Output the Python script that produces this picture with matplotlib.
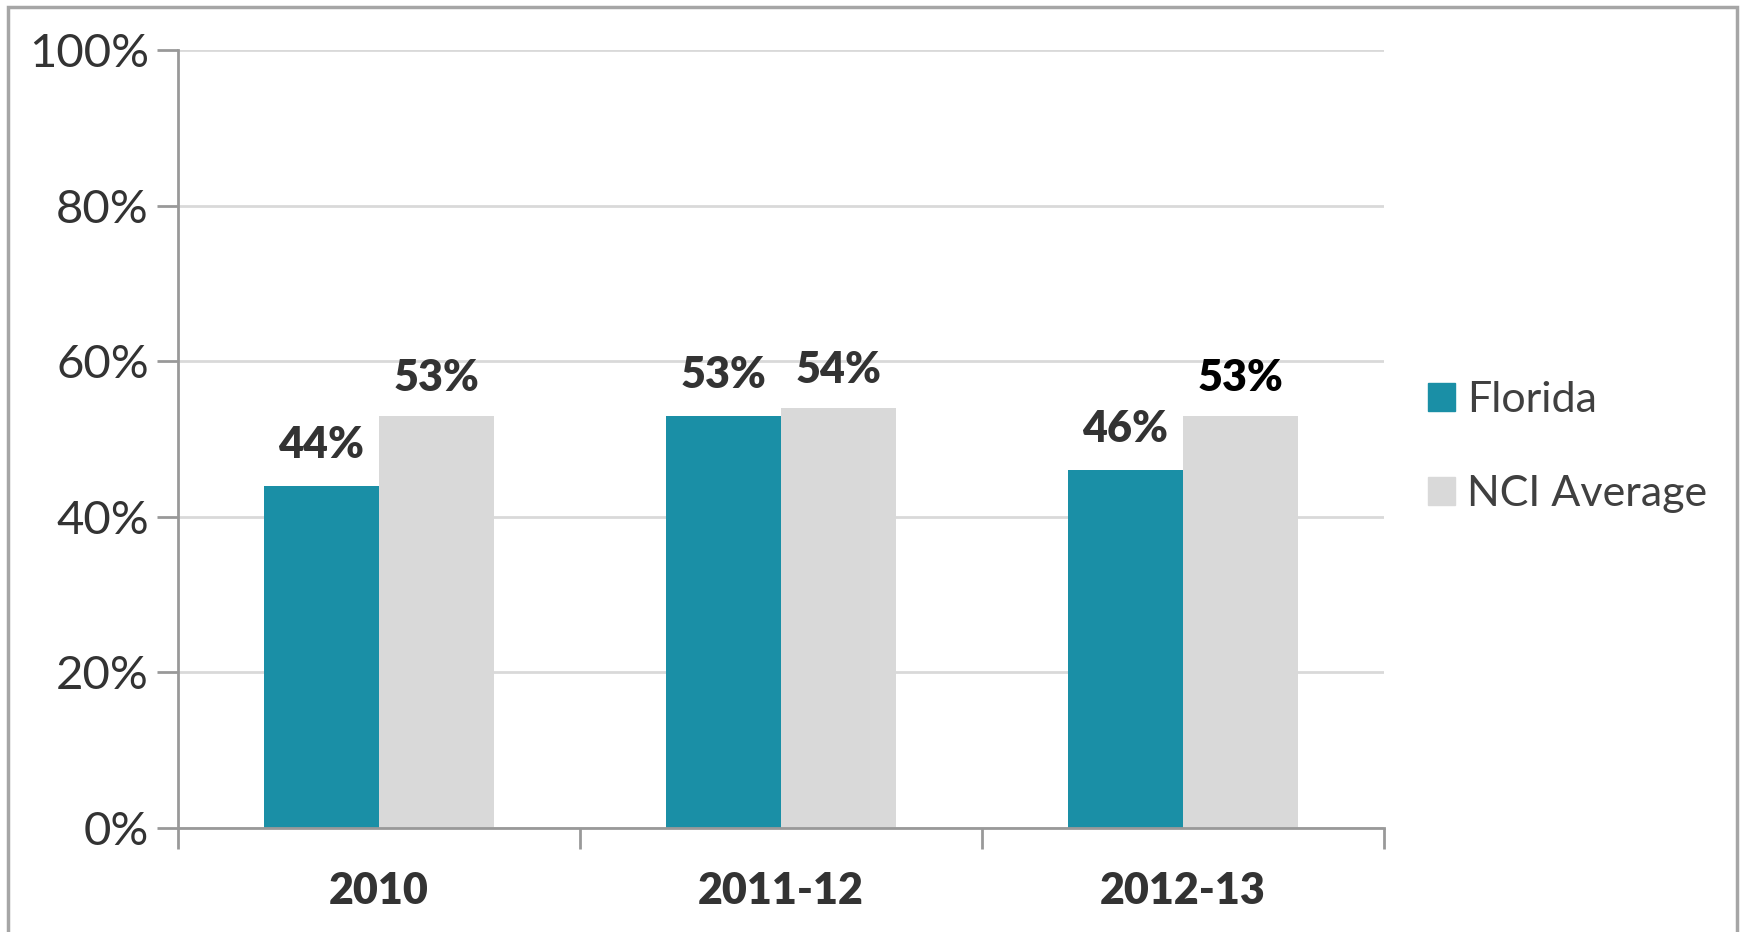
import numpy as np
import matplotlib.pyplot as plt
from matplotlib.patches import Rectangle, Patch

# chart data
categories = ['2010', '2011-12', '2012-13']
florida = [44, 53, 46]
nci_average = [53, 54, 53]
yticks = [0, 20, 40, 60, 80, 100]

teal = '#1a8fa6'
grey = '#d9d9d9'
text_col = '#333333'

plt.rcParams['font.family'] = ['Lato', 'DejaVu Sans']

fig = plt.figure(figsize=(17.41, 9.32), dpi=100)
ax = fig.add_axes([178 / 1741, 1 - 828 / 932, 1206 / 1741, 778 / 932])

x = np.arange(len(categories))
w = 0.286
b1 = ax.bar(x - w / 2, florida, w, color=teal, zorder=3)
b2 = ax.bar(x + w / 2, nci_average, w, color=grey, zorder=3)

for rect, v in zip(b1, florida):
    ax.text(rect.get_x() + rect.get_width() / 2, v + 2.7, f'{v}%', ha='center', va='bottom',
            fontsize=31, fontweight='heavy', color=text_col)
for i, (rect, v) in enumerate(zip(b2, nci_average)):
    ax.text(rect.get_x() + rect.get_width() / 2, v + 2.3, f'{v}%', ha='center', va='bottom',
            fontsize=31, fontweight='heavy', color='black' if i == 2 else text_col)

ax.set_xlim(-0.5, len(categories) - 0.5)
ax.set_ylim(0, 100)
ax.set_yticks(yticks)
ax.set_yticklabels([f'{t}%' for t in yticks])
ax.set_xticks(np.arange(len(categories) + 1) - 0.5)
ax.set_xticklabels([])
ax.set_xticks(x, minor=True)
ax.set_xticklabels(categories, minor=True)
ax.tick_params(axis='x', which='minor', length=0, pad=31, labelsize=31, labelcolor=text_col)
for lbl in ax.get_xticklabels(minor=True):
    lbl.set_fontweight('heavy')
ax.tick_params(axis='x', which='major', length=15, width=2, color='#999999')
ax.tick_params(axis='y', length=15, width=2, color='#999999', labelsize=34,
               labelcolor=text_col, pad=6)

ax.yaxis.grid(True, color=grey, linewidth=2, zorder=0)
ax.set_axisbelow(True)
for s in ['top', 'right']:
    ax.spines[s].set_visible(False)
for s in ['left', 'bottom']:
    ax.spines[s].set_color('#999999')
    ax.spines[s].set_linewidth(2)
ax.spines['bottom'].set_zorder(4)

handles = [Patch(color=teal), Patch(color=grey)]
fig.legend(handles, ['Florida', 'NCI Average'], loc='upper left',
           bbox_to_anchor=(1428 / 1741, 1 - 381 / 932), frameon=False, borderpad=0,
           borderaxespad=0, fontsize=31, labelcolor='#404040', handlelength=0.63,
           handleheight=0.63, handletextpad=0.28, labelspacing=1.3)

# outer chart border
fig.patches.append(Rectangle((8 / 1741, -0.05), 1729 / 1741, 1.05 - 7 / 932,
                             transform=fig.transFigure, fill=False,
                             edgecolor='#a6a6a6', linewidth=2.5))

fig.savefig('out.png', dpi=100)
